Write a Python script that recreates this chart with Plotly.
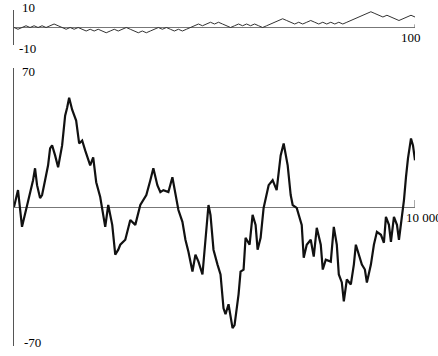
import plotly.graph_objects as go

# Short walk: 100 unit steps
short_steps = list(range(0, 101))
short_values = [
    0, -1, 0, 1, 0, 1, 0, 1, 0, 1,
    2, 1, 0, -1, 0, -1, 0, -1, -2, -1,
    -2, -1, -2, -3, -2, -1, -2, -1, 0, -1,
    -2, -3, -2, -3, -2, -1, 0, -1, 0, -1,
    -2, -1, -2, -1, 0, 1, 2, 1, 2, 3,
    2, 3, 2, 1, 0, 1, 2, 1, 2, 1,
    2, 1, 0, 1, 2, 3, 4, 5, 4, 3,
    2, 3, 2, 3, 4, 3, 2, 3, 2, 3,
    2, 3, 2, 3, 4, 5, 6, 7, 8, 9,
    8, 7, 6, 7, 6, 5, 4, 5, 6, 7,
    6,
]

# Long walk: 10 000 steps, sampled positions
long_steps = [
    0, 100, 200, 300, 400, 475, 525, 575, 650, 700,
    775, 850, 900, 950, 1025, 1100, 1200, 1275, 1325, 1375,
    1450, 1550, 1625, 1700, 1775, 1850, 1900, 1975, 2050, 2150,
    2225, 2275, 2350, 2450, 2525, 2600, 2650, 2775, 2900, 3025,
    3150, 3225, 3300, 3400, 3475, 3575, 3650, 3725, 3850, 3950,
    4050, 4100, 4200, 4275, 4350, 4450, 4525, 4600, 4700, 4775,
    4850, 4900, 4975, 5075, 5150, 5225, 5275, 5350, 5400, 5450,
    5500, 5550, 5600, 5650, 5725, 5775, 5875, 5950, 6025, 6075,
    6150, 6225, 6275, 6350, 6450, 6550, 6650, 6725, 6825, 6900,
    6950, 7050, 7175, 7225, 7300, 7400, 7475, 7550, 7650, 7700,
    7775, 7900, 7975, 8050, 8100, 8175, 8225, 8300, 8400, 8475,
    8525, 8600, 8675, 8750, 8800, 8900, 8975, 9050, 9150, 9225,
    9275, 9350, 9400, 9475, 9550, 9600, 9675, 9725, 9775, 9825,
    9900, 9950, 10000,
]
long_values = [
    0, 8.5, -10, -1.5, 6, 13.5, 19.5, 11, 4.5, 6,
    13.5, 21, 29.5, 31, 26, 20, 31, 46, 50, 55,
    49, 43.5, 32, 33.5, 28.5, 24.5, 21, 25, 12.5, 5,
    -4, -10, 1, -9, -24, -21.5, -19, -16.5, -6.5, -9,
    1, 3.5, 6, 13.5, 19.5, 11, 7.5, 8.5, 7.5, 15,
    3.5, -1.5, -7.5, -16.5, -22.5, -32.5, -24, -27.5, -34, -16.5,
    1, -4, -21.5, -29, -34, -51, -54, -49, -56, -61,
    -59.5, -52, -44, -32.5, -31.5, -15.5, -19, -4, -9, -21.5,
    -15.5, -0.5, 3.5, 11, 13.5, 8.5, 26, 32, 21, 6,
    1, -0.5, -9, -25.5, -19, -16.5, -25, -10.5, -19, -31.5,
    -26.5, -27.5, -10, -19, -34, -38, -47.5, -36.5, -39, -29,
    -19, -24, -29, -31.5, -38, -29, -19, -12.5, -14, -18,
    -5, -9, -17.5, -5, -9, -16.5, -4, 3.5, 15, 24.5,
    34.5, 31, 23.5,
]

short_ticks = [-10, 10]
long_ticks = [-70, 70]
short_end = short_steps[-1]
long_end = long_steps[-1]

W, H = 438, 356
x_dom = [14 / W, 415 / W]
font = dict(family="Liberation Serif, Times New Roman, serif", size=13, color="#000000")

fig = go.Figure()
fig.add_trace(go.Scatter(x=short_steps, y=short_values, mode="lines",
                         line=dict(color="#333", width=1), xaxis="x", yaxis="y"))
fig.add_trace(go.Scatter(x=long_steps, y=long_values, mode="lines",
                         line=dict(color="#111", width=2.2), xaxis="x2", yaxis="y2"))

axis_line = dict(showline=True, linecolor="#555", linewidth=1, showgrid=False,
                 zeroline=True, zerolinecolor="#777", zerolinewidth=1,
                 ticks="inside", ticklen=4, tickcolor="#555", showticklabels=False)

fig.update_layout(
    width=W, height=H, margin=dict(l=0, r=0, t=0, b=0),
    paper_bgcolor="white", plot_bgcolor="white", showlegend=False,
    xaxis=dict(domain=x_dom, range=[0, short_end], visible=False, anchor="y"),
    yaxis=dict(domain=[1 - 45 / H, 1 - 10 / H], range=short_ticks, tickvals=short_ticks,
               anchor="x", **axis_line),
    xaxis2=dict(domain=x_dom, range=[0, long_end], visible=False, anchor="y2"),
    yaxis2=dict(domain=[1 - 346 / H, 1 - 68 / H], range=long_ticks, tickvals=long_ticks,
                anchor="x2", **axis_line),
)

# end-of-axis tick marks on the horizontal lines
fig.add_shape(type="line", xref="x", yref="y", x0=short_end, x1=short_end, y0=0, y1=1.8,
              line=dict(color="#555", width=1))
fig.add_shape(type="line", xref="x2", yref="y2", x0=long_end, x1=long_end, y0=0, y1=3.5,
              line=dict(color="#555", width=1))

labels = [
    ("10", "x", "y", 0, short_ticks[1], "left", "middle", 6, 2.5),
    ("-10", "x", "y", 0, short_ticks[0], "left", "middle", 3, -4),
    ("100", "x", "y", short_end, 0, "center", "middle", -4, -10.5),
    ("70", "x2", "y2", 0, long_ticks[1], "left", "middle", 6, -3),
    ("-70", "x2", "y2", 0, long_ticks[0], "left", "middle", 8, 4),
    ("10 000", "x2", "y2", long_end, 0, "left", "middle", -11, -10),
]
for text, xr, yr, xv, yv, xa, ya, dx, dy in labels:
    fig.add_annotation(text=text, xref=xr, yref=yr, x=xv, y=yv, xanchor=xa, yanchor=ya,
                       xshift=dx, yshift=dy, showarrow=False, font=font)

fig.write_html("out.html")
